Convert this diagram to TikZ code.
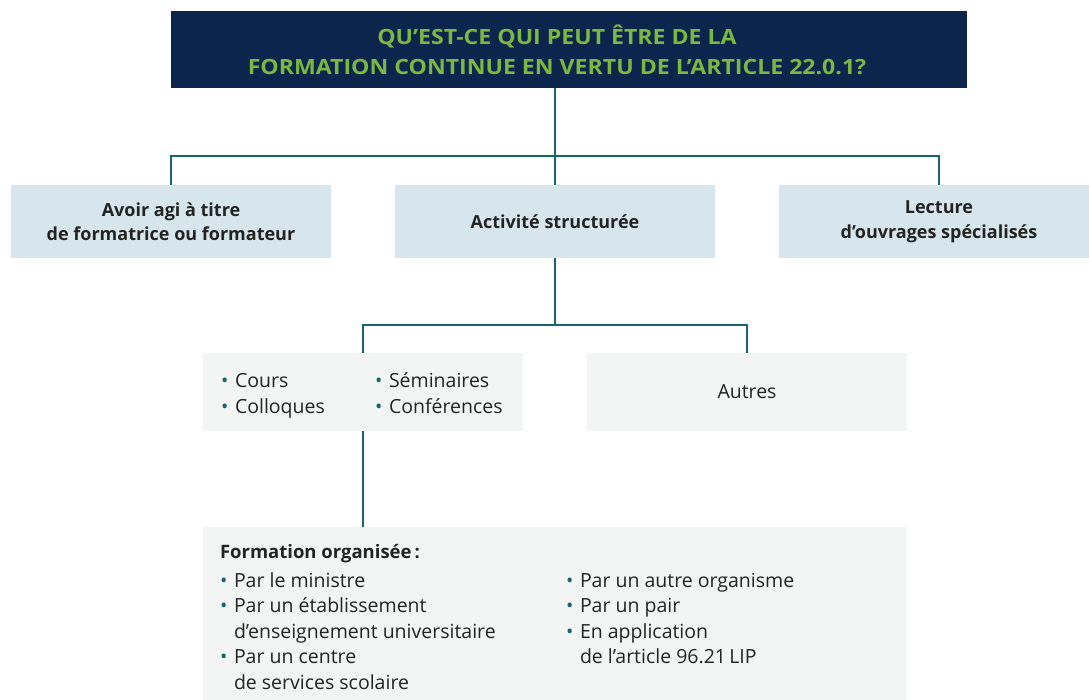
\documentclass[tikz,border=0pt]{standalone}
\usepackage{fontspec}
\setmainfont{Open Sans}
\newfontfamily\titrefont{Open Sans}[FakeStretch=1.1]
\usepackage{xcolor}
\usepackage{tikz}
\usetikzlibrary{
    positioning
}
\definecolor{marine}{HTML}{0B254D}
\definecolor{vert}{HTML}{7AB842}
\definecolor{sarcelle}{HTML}{166670}
\definecolor{bleuclair}{HTML}{D7E6EC}
\definecolor{grisclair}{HTML}{F3F5F5}
\definecolor{texte}{HTML}{232323}
\tikzset{
    titre/.style={fill=marine, text=vert, font=\titrefont\bfseries\fontsize{21}{28}\selectfont,
        align=center, minimum width=796pt, minimum height=77pt, inner sep=0pt},
    bleu/.style={fill=bleuclair, text=texte, font=\bfseries\fontsize{18}{24.5}\selectfont,
        align=center, minimum width=320pt, minimum height=73pt, inner sep=0pt},
    gris/.style={fill=grisclair, text=texte, font=\fontsize{19.5}{26}\selectfont,
        minimum width=320pt, minimum height=78pt, inner sep=0pt},
    lien/.style={draw=sarcelle, line width=2.6pt},
}
\newcommand{\puce}{\makebox[14pt][l]{\textcolor{sarcelle}{\textbullet}}}
\newcommand{\suite}{\hspace*{14pt}}

\begin{document}
\begin{tikzpicture}[x=1pt,y=-1pt,on grid]
       \clip (0,0) rectangle (1089,700);
       \node[titre] (titre) at (569,49.5) {QU’EST-CE QUI PEUT ÊTRE DE LA\hspace*{24pt}\\[2pt]FORMATION CONTINUE EN VERTU DE L’ARTICLE 22.0.1?\hspace*{24pt}};
       \node[bleu] (b_2) at (555,221.5) {Activité structurée};
       \node[bleu] (b_1) [left=384pt of b_2] {Avoir agi à titre\\de formatrice ou formateur};
       \node[bleu] (b_3) [right=384pt of b_2] {Lecture\\d’ouvrages spécialisés};
       \node[gris] (c_1) [below left=170.5pt and 192pt of b_2] {\raisebox{-3pt}[\height][\depth]{%
         \begin{tabular}{@{}p{154pt}@{}p{130pt}@{}}
         \puce Cours & \puce Séminaires\\
         \puce Colloques & \puce Conférences
         \end{tabular}}};
       \node[gris] (c_2) [below right=170.5pt and 192pt of b_2] {Autres};
       \node[gris, minimum width=704pt, minimum height=180pt] (d_1) [below=395.5pt of b_2] {};
       \node[anchor=north west, inner sep=0pt, text=texte, font=\fontsize{19.5}{25.5}\selectfont]
         (d_texte) at ([xshift=17pt, yshift=-14pt]d_1.north west) {%
         \begin{tabular}{@{}p{346pt}@{}p{240pt}@{}}
         \multicolumn{2}{@{}l}{\bfseries\fontsize{18.5}{25.5}\selectfont Formation organisée\,:}\\[3pt]
         \puce Par le ministre & \puce Par un autre organisme\\
         \puce Par un établissement & \puce Par un pair\\
         \suite d’enseignement universitaire & \puce En application\\
         \puce Par un centre & \suite de l’article 96.21\,LIP\\
         \suite de services scolaire &
         \end{tabular}};
       % connecteurs
       \coordinate (j_1) at (555,156);
       \coordinate (j_2) at (555,325);
       \draw[lien] (b_2.north) -- (b_2.north |- titre.south);
       \draw[lien] (b_1.north) |- (j_1) -| (b_3.north);
       \draw[lien] (b_2.south) -- (j_2);
       \draw[lien] (c_1.north) |- (j_2) -| (c_2.north);
       \draw[lien] (c_1.south) -- (c_1.south |- d_1.north);
\end{tikzpicture}
\end{document}
